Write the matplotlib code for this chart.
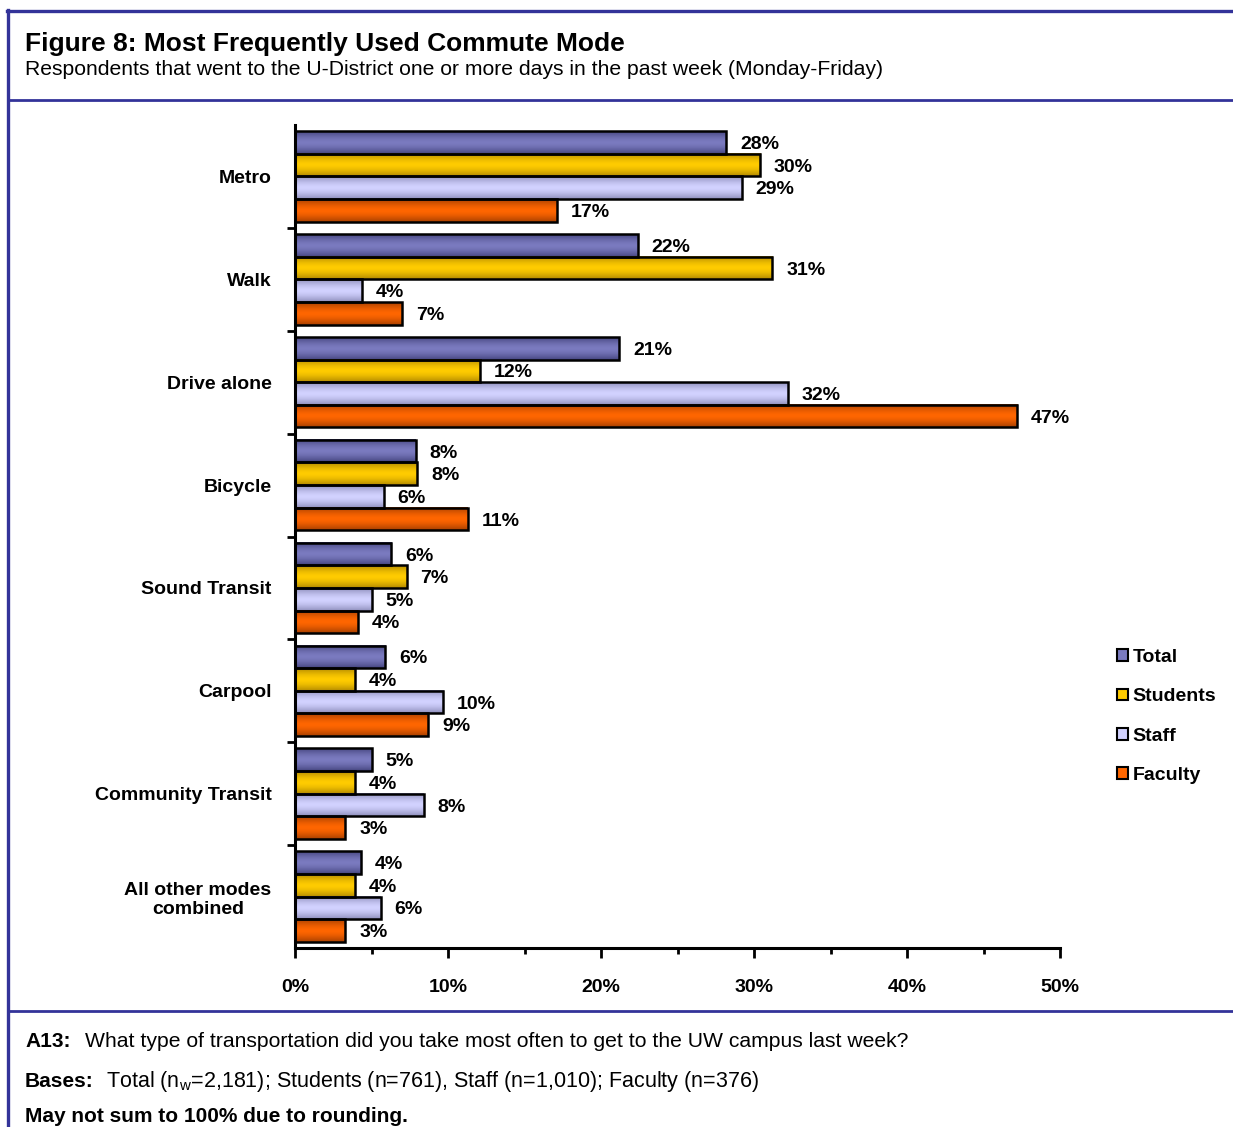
import numpy as np
import matplotlib.pyplot as plt
from matplotlib.colors import LinearSegmentedColormap
from matplotlib.patches import Patch, Rectangle
from matplotlib.lines import Line2D

plt.rcParams['font.family'] = ['Liberation Sans', 'DejaVu Sans']

# data (bar lengths in %)
modes = ["Metro", "Walk", "Drive alone", "Bicycle", "Sound Transit",
         "Carpool", "Community Transit", "All other modes\ncombined"]
groups = ["Total", "Students", "Staff", "Faculty"]
total = [28.2, 22.4, 21.2, 7.9, 6.3, 5.9, 5.0, 4.3]
students = [30.4, 31.2, 12.1, 8.0, 7.3, 3.9, 3.9, 3.9]
staff = [29.2, 4.4, 32.2, 5.8, 5.0, 9.7, 8.4, 5.6]
faculty = [17.1, 7.0, 47.2, 11.3, 4.1, 8.7, 3.3, 3.3]
xticks = [0, 10, 20, 30, 40, 50]

# mid colour, edge colour of the shaded bars
colors = [("#7B7BC0", "#45457F"),
          ("#FFCC00", "#B38A00"),
          ("#D2D2FF", "#8E8EBB"),
          ("#FF6600", "#A84000")]

W, H = 1233, 1127
fig = plt.figure(figsize=(W / 100, H / 100), dpi=100)


def fx(px):
    return px / W


def fy(py):
    return 1 - py / H


# frame lines
blue = "#333399"
for line in [Line2D([fx(8), fx(8)], [fy(10), 0], color=blue, lw=2.4),
             Line2D([fx(7), 1], [fy(11), fy(11)], color=blue, lw=2.4),
             Line2D([fx(8), 1], [fy(100), fy(100)], color=blue, lw=2.0),
             Line2D([fx(8), 1], [fy(1011), fy(1011)], color=blue, lw=2.0)]:
    fig.add_artist(line)

fig.text(fx(25), fy(51), "Figure 8: Most Frequently Used Commute Mode",
         fontsize=19, fontweight="bold", va="baseline")
fig.text(fx(25), fy(75), "Respondents that went to the U-District one or more "
         "days in the past week (Monday-Friday)", fontsize=15.25,
         va="baseline")

left, right, top, bottom = 295, 1060, 125, 948
ax = fig.add_axes([fx(left), fy(bottom), fx(right - left),
                   (bottom - top) / H])

series = [total, students, staff, faculty]
ypos = np.arange(len(modes))
bh = 0.22
grad = np.abs(np.linspace(-1, 1, 40))[:, None] ** 1.6
for i, vals in enumerate(series):
    cmap = LinearSegmentedColormap.from_list("g%d" % i, colors[i])
    offs = (i - 1.5) * bh
    for y, v in zip(ypos, vals):
        y0, y1 = y + offs - bh / 2, y + offs + bh / 2
        ax.imshow(grad, extent=[0, v, y1, y0], cmap=cmap, aspect="auto",
                  vmin=0, vmax=1, zorder=2, interpolation="bilinear")
        ax.add_patch(Rectangle((0, y0), v, bh, facecolor="none",
                               edgecolor="black", lw=1.8, zorder=3))
        ax.text(v + 0.9, y + offs + 0.02, "%d%%" % round(v), fontsize=14,
                fontweight="bold", va="center", ha="left")

ax.set_xlim(0, 50)
ax.set_ylim(len(modes) - 0.5, -0.5)
ax.spines["top"].set_visible(False)
ax.spines["right"].set_visible(False)
ax.spines["left"].set_linewidth(2.2)
ax.spines["bottom"].set_linewidth(2.2)
ax.spines["left"].set_zorder(4)

ax.set_xticks(xticks)
ax.set_xticklabels(["%d%%" % t for t in xticks], fontsize=14,
                   fontweight="bold")
ax.set_xticks(np.arange(5, 50, 10), minor=True)
ax.tick_params(axis="x", which="major", length=7, width=2, pad=15)
ax.tick_params(axis="x", which="minor", length=4, width=2)

ax.set_yticks(ypos)
ax.set_yticklabels(modes, fontsize=14, fontweight="bold",
                   multialignment="center")
ax.tick_params(axis="y", which="major", length=0, pad=17)
ax.set_yticks(np.arange(0.5, len(modes) - 0.5, 1), minor=True)
ax.tick_params(axis="y", which="minor", length=6, width=2)

handles = [Patch(facecolor=c[0], edgecolor="black", lw=1.5) for c in colors]
fig.legend(handles, groups, loc="upper left",
           bbox_to_anchor=(fx(1117), fy(649)), frameon=False,
           prop={"size": 14, "weight": "bold"}, handlelength=0.55,
           handleheight=0.55, handletextpad=0.25, labelspacing=1.15,
           borderpad=0, borderaxespad=0)

fig.text(fx(25), fy(1047), "A13:", fontsize=15, fontweight="bold",
         va="baseline")
fig.text(fx(85), fy(1047), "What type of transportation did you take most "
         "often to get to the UW campus last week?", fontsize=15.2,
         va="baseline")
fig.text(fx(25), fy(1087), "Bases:", fontsize=15, fontweight="bold",
         va="baseline")
fig.text(fx(106), fy(1087), "Total (n$_\\mathregular{w}$=2,181); Students "
         "(n=761), Staff (n=1,010); Faculty (n=376)", fontsize=15.5,
         va="baseline")
fig.text(fx(25), fy(1122), "May not sum to 100% due to rounding.",
         fontsize=15, fontweight="bold", va="baseline")

fig.savefig("out.png", dpi=100)
